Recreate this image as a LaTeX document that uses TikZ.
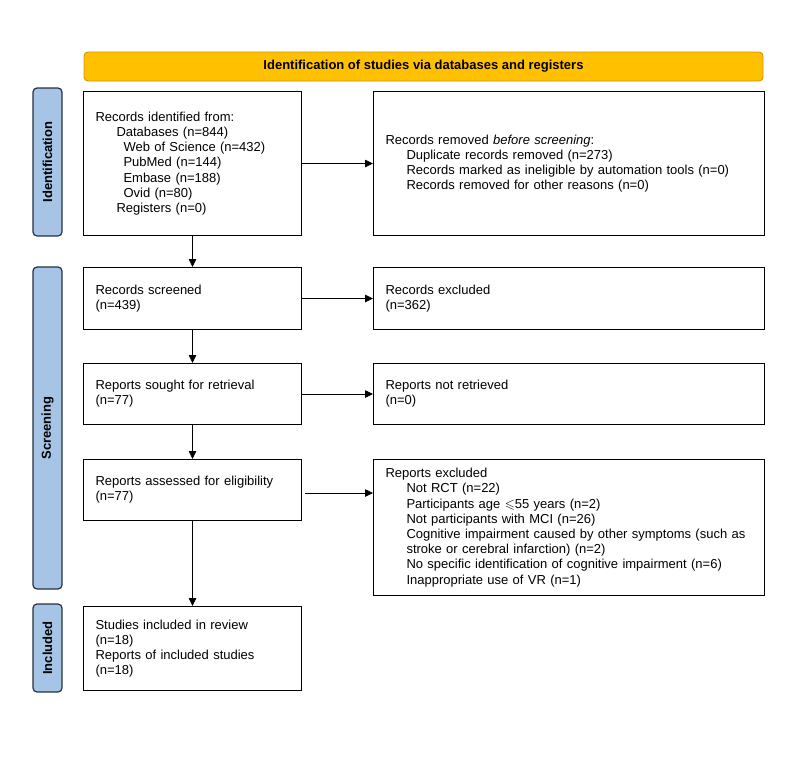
\documentclass[tikz,border=0pt]{standalone}
\usepackage{amssymb}
\usepackage{fontspec}
\setmainfont{Liberation Sans}
\usetikzlibrary{arrows.meta, positioning, calc}
\definecolor{bannerfill}{HTML}{FFC000}
\definecolor{bannerline}{HTML}{C8960C}
\definecolor{phasefill}{HTML}{A6C4E6}
\definecolor{phaseline}{HTML}{27313F}

\begin{document}
\begin{tikzpicture}[x=1pt,y=-1pt,node distance=34pt and 71pt,
  box/.style={rectangle,draw,line width=1pt,inner xsep=12pt,inner ysep=4pt,align=left,font=\fontsize{13}{15.2}\selectfont,anchor=north west},
  leftbox/.style={box,text width=194pt,minimum width=218pt},
  rightbox/.style={box,text width=367pt,minimum width=391pt},
  phase/.style={rectangle,draw=phaseline,fill=phasefill,line width=1.2pt,rounded corners=4pt,minimum height=29pt,font=\bfseries\fontsize{13}{15}\selectfont,rotate=90},
  banner/.style={rectangle,draw=bannerline,fill=bannerfill,line width=0.9pt,rounded corners=4pt,minimum width=679pt,minimum height=29pt,font=\bfseries\fontsize{13}{15}\selectfont},
  flow/.style={-{Triangle[length=8pt,width=7.5pt]},line width=0.8pt}]
\useasboundingbox (0,0) rectangle (799,780);

\node[banner] (title) at (423.5,66.5) {Identification of studies via databases and registers};

% phase labels
\node[phase,minimum width=148pt] (pident) at (47.5,162) {Identification};
\node[phase,minimum width=322pt] (pscreen) at (47.5,428) {Screening};
\node[phase,minimum width=88pt] (pincl) at (47.5,648) {Included};

% left column
\node[leftbox,minimum height=144pt] (ident) at (83,91) {Records identified from:\\
  \hspace*{21pt}Databases (n=844)\\
  \hspace*{28pt}Web of Science (n=432)\\
  \hspace*{28pt}PubMed (n=144)\\
  \hspace*{28pt}Embase (n=188)\\
  \hspace*{28pt}Ovid (n=80)\\
  \hspace*{21pt}Registers (n=0)};
\node[leftbox,minimum height=62pt,below=31pt of ident] (screened) {Records screened\\(n=439)};
\node[leftbox,minimum height=61pt,below=33pt of screened] (sought) {Reports sought for retrieval\\(n=77)};
\node[leftbox,minimum height=61pt,below=34pt of sought] (assessed) {Reports assessed for eligibility\\(n=77)};
\node[leftbox,minimum height=84pt,below=85pt of assessed] (included) {Studies included in review\\(n=18)\\Reports of included studies\\(n=18)};

% right column
\node[rightbox,minimum height=144pt,right=71pt of ident] (removed) {Records removed \textit{before screening}:\\
  \hspace*{21pt}Duplicate records removed (n=273)\\
  \hspace*{21pt}Records marked as ineligible by automation tools (n=0)\\
  \hspace*{21pt}Records removed for other reasons (n=0)};
\node[rightbox,minimum height=62pt,right=71pt of screened] (excluded) {Records excluded\\(n=362)};
\node[rightbox,minimum height=61pt,right=71pt of sought] (notretr) {Reports not retrieved\\(n=0)};
\node[rightbox,minimum height=136pt,right=71pt of assessed.north east,anchor=north west] (repexcl) {Reports excluded\\
  \hspace*{21pt}Not RCT (n=22)\\
  \hspace*{21pt}Participants age \smash{$\leqslant$}55 years (n=2)\\
  \hspace*{21pt}Not participants with MCI (n=26)\\
  \hspace*{21pt}Cognitive impairment caused by other symptoms (such as\\
  \hspace*{21pt}stroke or cerebral infarction) (n=2)\\
  \hspace*{21pt}No specific identification of cognitive impairment (n=6)\\
  \hspace*{21pt}Inappropriate use of VR (n=1)};

% connectors
\draw[flow] (ident) -- (removed);
\draw[flow] (screened) -- (excluded);
\draw[flow] (sought) -- (notretr);
\draw[flow] ($(assessed.east)+(3,3)$) -- ($(assessed.east -| repexcl.west)+(0,3)$);
\draw[flow] (ident) -- (screened);
\draw[flow] (screened) -- (sought);
\draw[flow] (sought) -- (assessed);
\draw[flow] (assessed) -- (included);
\end{tikzpicture}
\end{document}
